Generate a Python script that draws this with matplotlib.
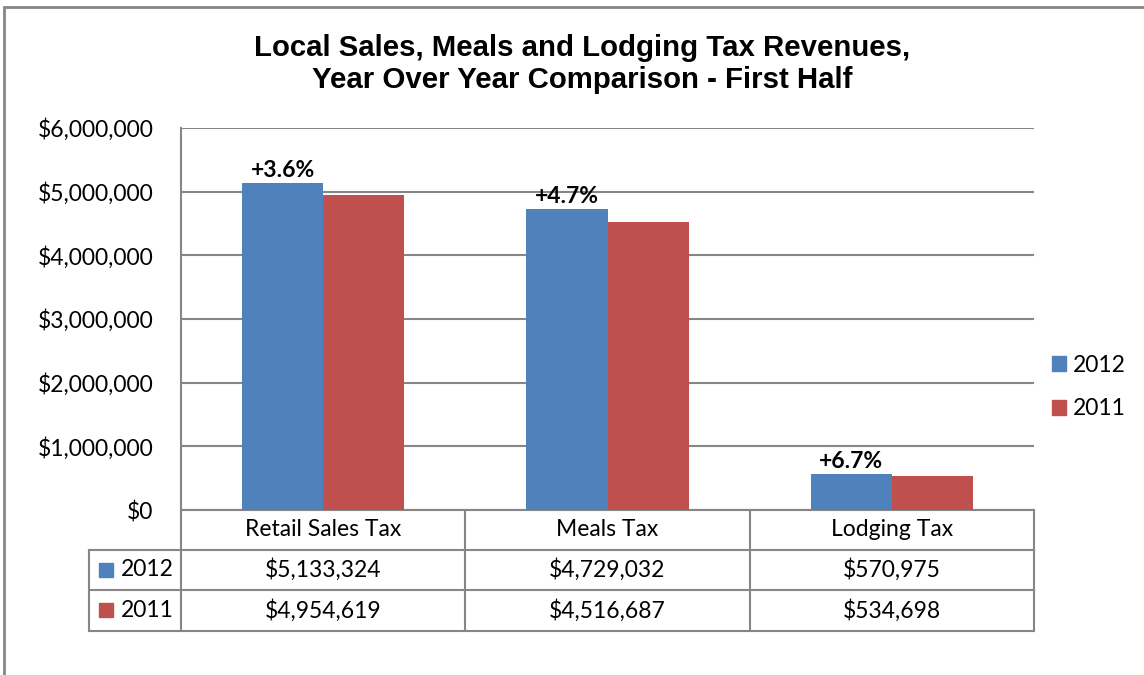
import numpy as np
import matplotlib
matplotlib.use("Agg")
import matplotlib.pyplot as plt
from matplotlib.patches import Rectangle, Patch
from matplotlib.lines import Line2D
from matplotlib.ticker import FuncFormatter

categories = ["Retail Sales Tax", "Meals Tax", "Lodging Tax"]
years = ["2012", "2011"]
vals_2012 = [5133324, 4729032, 570975]
vals_2011 = [4954619, 4516687, 534698]
pct_labels = ["+3.6%", "+4.7%", "+6.7%"]
colors = ["#4F81BD", "#C0504D"]

body_font = ["Lato", "DejaVu Sans"]
grid_col = "#868686"
fs = 16.5

fig = plt.figure(figsize=(11.44, 6.75), dpi=100)
W, H = 1144, 675

# axes placed by pixel box of the plot area
x0, x1, ytop, ybot = 181, 1034, 128, 510
ax = fig.add_axes([x0 / W, 1 - ybot / H, (x1 - x0) / W, (ybot - ytop) / H])

x = np.arange(len(categories))
bw = 0.285
ax.bar(x - bw / 2, vals_2012, bw, color=colors[0], zorder=3)
ax.bar(x + bw / 2, vals_2011, bw, color=colors[1], zorder=3)

for i, lab in enumerate(pct_labels):
    ax.text(x[i] - bw / 2, vals_2012[i] + 30000, lab, ha="center", va="bottom",
            fontsize=16.5, fontweight="bold", family=body_font, zorder=4)

ax.set_xlim(-0.5, 2.5)
ax.set_ylim(0, 6000000)
ax.set_yticks(np.arange(0, 6000001, 1000000))
ax.yaxis.set_major_formatter(FuncFormatter(lambda v, p: "${:,.0f}".format(v)))
ax.grid(axis="y", color=grid_col, linewidth=1.5, zorder=0)
ax.set_xticks([])
ax.tick_params(axis="y", length=0, pad=20, labelsize=fs)
for t in ax.get_yticklabels():
    t.set_family(body_font)
for s in ["top", "right", "bottom"]:
    ax.spines[s].set_visible(False)
ax.spines["left"].set_color(grid_col)
ax.spines["left"].set_linewidth(1.5)

# data table under the axis
tr = ax.get_xaxis_transform()
px = (ybot - ytop)
rows_y = [0, -40 / px, -80 / px, -121 / px]
lab_left = -0.5 - (x0 - 89) / ((x1 - x0) / 3)
lk = dict(color=grid_col, linewidth=1.5, clip_on=False, transform=tr)
ax.add_line(Line2D([-0.5, 2.5], [rows_y[0]] * 2, **lk))
for ry in rows_y[1:]:
    ax.add_line(Line2D([lab_left, 2.5], [ry] * 2, **lk))
for xv in [-0.5, 0.5, 1.5, 2.5]:
    ax.add_line(Line2D([xv, xv], [rows_y[0], rows_y[3]], **lk))
ax.add_line(Line2D([lab_left, lab_left], [rows_y[1], rows_y[3]], **lk))

for i, c in enumerate(categories):
    ax.text(x[i], (rows_y[0] + rows_y[1]) / 2, c, transform=tr, ha="center",
            va="center", fontsize=fs, family=body_font)
for r, (yr, vals) in enumerate(zip(years, [vals_2012, vals_2011])):
    yc = (rows_y[r + 1] + rows_y[r + 2]) / 2
    for i, v in enumerate(vals):
        ax.text(x[i], yc, "${:,.0f}".format(v), transform=tr, ha="center",
                va="center", fontsize=fs, family=body_font)
    ax.text(-0.5 - 0.025, yc, yr, transform=tr, ha="right", va="center",
            fontsize=fs, family=body_font)
    fig.add_artist(Rectangle((99 / W, 1 - (ybot + 67 + 40 * r) / H),
                             14 / W, 14 / H, color=colors[r],
                             transform=fig.transFigure))

# legend on the right
handles = [Patch(color=colors[0], label=years[0]),
           Patch(color=colors[1], label=years[1])]
fig.legend(handles=handles, loc="center left",
           bbox_to_anchor=(1052 / W, 1 - 387 / H), frameon=False,
           prop={"family": body_font, "size": fs}, handlelength=0.6,
           handleheight=0.6, handletextpad=0.3, labelspacing=1.0,
           borderpad=0, borderaxespad=0)

fig.text(0.5 + 10 / W, 1 - 64 / H,
         "Local Sales, Meals and Lodging Tax Revenues,\nYear Over Year Comparison - First Half",
         ha="center", va="center", fontsize=21.2, fontweight="bold",
         family="Liberation Sans", linespacing=1.2)

# chart area border
fig.add_artist(Rectangle((4 / W, -0.05), 1.2, 1.05 - 7 / H, fill=False,
                         edgecolor=grid_col, linewidth=2,
                         transform=fig.transFigure))

fig.savefig("out.png", dpi=100)
